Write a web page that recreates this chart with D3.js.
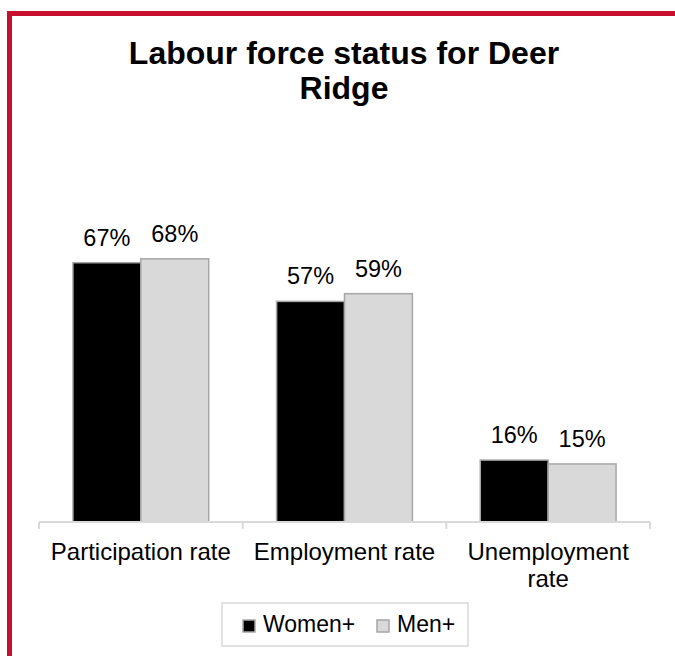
<!DOCTYPE html>
<html>
<head>
<meta charset="utf-8">
<script src="https://cdn.jsdelivr.net/npm/d3@7"></script>
<style>
  html, body { margin: 0; padding: 0; background: #fff; }
  svg { display: block; font-family: Arial, "Liberation Sans", sans-serif; }
</style>
</head>
<body>
<svg id="chart" width="675" height="656"></svg>
<script>
const titleLines = ["Labour force status for Deer", "Ridge"];
const categories = ["Participation rate", "Employment rate", "Unemployment rate"];
const seriesNames = ["Women+", "Men+"];
const women = [0.67, 0.57, 0.16];
const men = [0.68, 0.59, 0.15];
const seriesColors = ["#000000", "#d9d9d9"];

const svg = d3.select("#chart");
const W = 675, H = 656;

// frame
svg.append("rect").attr("x", 9.5).attr("y", 13.5).attr("width", W + 20).attr("height", H + 20)
  .attr("fill", "#fff").attr("stroke", "#c8102e").attr("stroke-width", 5);

// title
const title = svg.append("text").attr("text-anchor", "middle")
  .attr("font-size", 32).attr("font-weight", "bold").attr("fill", "#000");
titleLines.forEach((t, i) => {
  title.append("tspan").attr("x", 344).attr("y", 64 + i * 35).text(t);
});

const baseY = 522;
const x0 = d3.scaleBand().domain(categories).range([39, 650]).paddingInner(0).paddingOuter(0);
const bw = x0.bandwidth();
const x1 = d3.scaleBand().domain(seriesNames).range([bw / 6, bw * 5 / 6]).padding(0);
const y = d3.scaleLinear().domain([0, 1]).range([baseY, baseY - 387]);

const data = categories.map((c, i) => ({ cat: c, vals: [women[i], men[i]] }));

const groups = svg.append("g").selectAll("g").data(data).join("g")
  .attr("transform", d => `translate(${x0(d.cat)},0)`);

groups.selectAll("rect").data(d => d.vals.map((v, j) => ({ v, s: seriesNames[j], j })))
  .join("rect")
  .attr("x", d => x1(d.s))
  .attr("y", d => y(d.v))
  .attr("width", x1.bandwidth())
  .attr("height", d => y(0) - y(d.v))
  .attr("fill", d => seriesColors[d.j])
  .attr("stroke", "#a6a6a6")
  .attr("stroke-width", 1.5);

groups.selectAll("text.val").data(d => d.vals.map((v, j) => ({ v, s: seriesNames[j] })))
  .join("text").attr("class", "val")
  .attr("x", d => x1(d.s) + x1.bandwidth() / 2)
  .attr("y", d => y(d.v) - 17)
  .attr("text-anchor", "middle")
  .attr("font-size", 23.5)
  .attr("fill", "#000")
  .text(d => d3.format(".0%")(d.v));

// axis
const axis = svg.append("g").attr("transform", `translate(0,${baseY})`)
  .call(d3.axisBottom(x0).tickSize(0).tickSizeOuter(0).tickPadding(0));
axis.select(".domain").remove();
axis.selectAll(".tick text").remove();

const edges = categories.map(c => x0(c)).concat([x0(categories[categories.length - 1]) + bw]);
svg.append("line").attr("x1", edges[0]).attr("x2", edges[edges.length - 1])
  .attr("y1", baseY).attr("y2", baseY).attr("stroke", "#d9d9d9").attr("stroke-width", 2);
svg.selectAll("line.tk").data(edges).join("line").attr("class", "tk")
  .attr("x1", d => d).attr("x2", d => d).attr("y1", baseY).attr("y2", baseY + 7)
  .attr("stroke", "#d9d9d9").attr("stroke-width", 2);

// category labels with wrapping
function wrapLines(text, maxW, size) {
  const words = text.split(" ");
  const tmp = svg.append("text").attr("font-size", size);
  const lines = [];
  let cur = "";
  words.forEach(w => {
    const test = cur ? cur + " " + w : w;
    tmp.text(test);
    if (tmp.node().getComputedTextLength() > maxW && cur) { lines.push(cur); cur = w; }
    else cur = test;
  });
  lines.push(cur);
  tmp.remove();
  return lines;
}
categories.forEach(c => {
  const lines = wrapLines(c, 190, 24);
  const t = svg.append("text").attr("text-anchor", "middle").attr("font-size", 24).attr("fill", "#000");
  lines.forEach((l, i) => t.append("tspan").attr("x", x0(c) + bw / 2).attr("y", 560 + i * 27).text(l));
});

// legend
svg.append("rect").attr("x", 222).attr("y", 603).attr("width", 246).attr("height", 43)
  .attr("fill", "#fff").attr("stroke", "#d9d9d9").attr("stroke-width", 1.5);
const legX = [243, 377];
seriesNames.forEach((s, i) => {
  svg.append("rect").attr("x", legX[i]).attr("y", 620).attr("width", 12).attr("height", 12)
    .attr("fill", seriesColors[i]).attr("stroke", "#a6a6a6").attr("stroke-width", 1.5);
  svg.append("text").attr("x", legX[i] + 20).attr("y", 632).attr("font-size", 23).attr("fill", "#000").text(s);
});
</script>
</body>
</html>
